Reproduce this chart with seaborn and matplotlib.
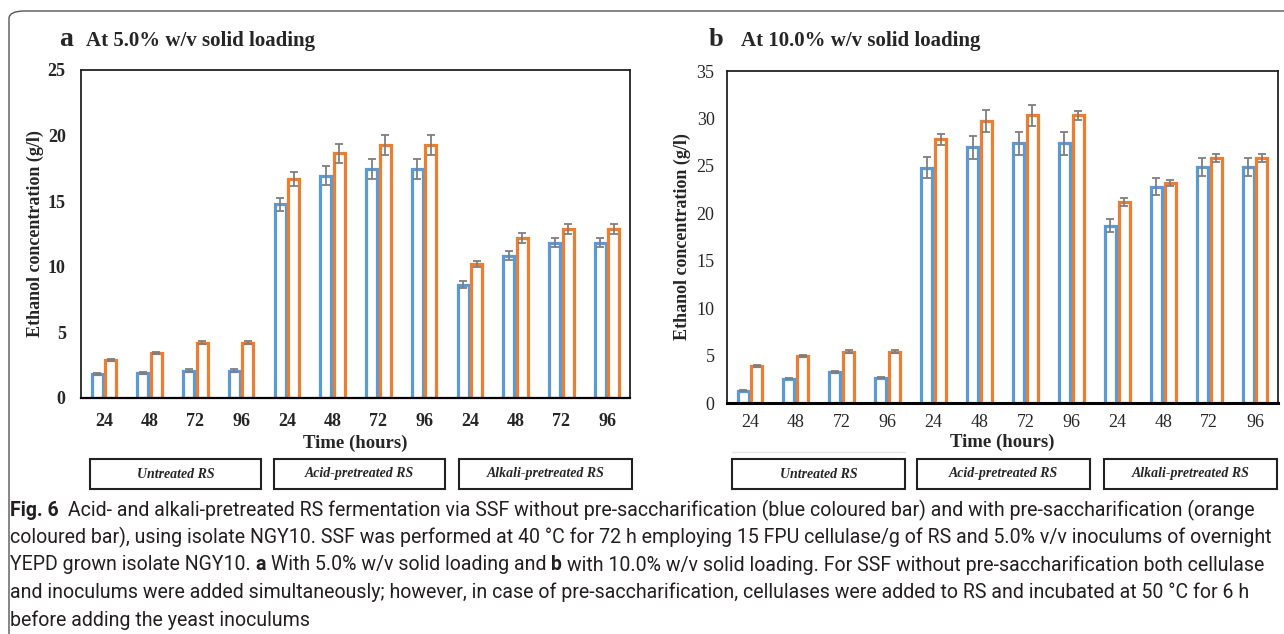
import pandas as pd
import matplotlib
matplotlib.use("Agg")
import matplotlib.pyplot as plt
import seaborn as sns
from matplotlib.patches import Rectangle, FancyBboxPatch

# ---- data ----
groups = ["Untreated RS", "Acid-pretreated RS", "Alkali-pretreated RS"]
hours = ["24", "48", "72", "96"]
methods = ["without pre-saccharification", "with pre-saccharification"]

# panel a, 5.0% w/v solid loading
a_blue = [1.82, 1.90, 2.08, 2.08, 14.75, 16.95, 17.45, 17.45, 8.65, 10.85, 11.85, 11.85]
a_blue_err = [0.08, 0.08, 0.10, 0.10, 0.53, 0.70, 0.76, 0.76, 0.27, 0.32, 0.37, 0.37]
a_orange = [2.92, 3.42, 4.22, 4.22, 16.70, 18.65, 19.25, 19.25, 10.20, 12.20, 12.85, 12.85]
a_orange_err = [0.08, 0.10, 0.10, 0.10, 0.52, 0.73, 0.76, 0.76, 0.23, 0.39, 0.38, 0.38]

# panel b, 10.0% w/v solid loading
b_blue = [1.27, 2.57, 3.28, 2.67, 24.80, 26.98, 27.40, 27.40, 18.68, 22.80, 24.87, 24.87]
b_blue_err = [0.05, 0.05, 0.12, 0.08, 1.13, 1.21, 1.21, 1.21, 0.67, 0.90, 0.98, 0.98]
b_orange = [3.87, 4.96, 5.42, 5.42, 27.80, 29.72, 30.32, 30.32, 21.20, 23.18, 25.85, 25.85]
b_orange_err = [0.12, 0.15, 0.15, 0.12, 0.58, 1.13, 1.10, 0.50, 0.39, 0.35, 0.42, 0.42]

caption_lines = [
    [("Fig. 6", True), ("  Acid- and alkali-pretreated RS fermentation via SSF without pre-saccharification (blue coloured bar) and with pre-saccharification (orange", False)],
    [("coloured bar), using isolate NGY10. SSF was performed at 40 °C for 72 h employing 15 FPU cellulase/g of RS and 5.0% v/v inoculums of overnight", False)],
    [("YEPD grown isolate NGY10. ", False), ("a", True), (" With 5.0% w/v solid loading and ", False), ("b", True),
     (" with 10.0% w/v solid loading. For SSF without pre-saccharification both cellulase", False)],
    [("and inoculums were added simultaneously; however, in case of pre-saccharification, cellulases were added to RS and incubated at 50 °C for 6 h", False)],
    [("before adding the yeast inoculums", False)],
]

BLUE = "#5b9bd5"
ORANGE = "#ed7d31"

positions = [g + " " + h for g in groups for h in hours]


def make_df(blue, orange):
    return pd.DataFrame({
        "pos": positions * 2,
        "method": [methods[0]] * 12 + [methods[1]] * 12,
        "value": blue + orange,
    })


sns.set_style("white")
plt.rcParams["font.family"] = ["Liberation Serif", "DejaVu Serif"]

W, H = 1284, 634
fig = plt.figure(figsize=(W / 100, H / 100), dpi=100)


def fx(x):
    return x / W


def fy(y):
    return 1 - y / H


def axes_px(x0, y0, x1, y1):
    return fig.add_axes([fx(x0), fy(y1), fx(x1) - fx(x0), fy(y0) - fy(y1)])


# outer rounded frame
fig.patches.append(FancyBboxPatch((fx(9), fy(660)), fx(1320) - fx(9), fy(11) - fy(660),
                                  boxstyle="round,pad=0,rounding_size=0.012",
                                  transform=fig.transFigure, fill=False,
                                  edgecolor="#555555", linewidth=1.0))


def panel(box, blue, blue_err, orange, orange_err, ymax, bold_ticks, bottom_lw,
          xpad, ypad, ylpad, xlpad):
    ax = axes_px(*box)
    df = make_df(blue, orange)
    sns.barplot(data=df, x="pos", y="value", hue="method", order=positions,
                hue_order=methods, palette=[BLUE, ORANGE], fill=False,
                linewidth=2.3, width=0.6, gap=0.2, errorbar=None,
                legend=False, ax=ax)
    for cont, errs in zip(ax.containers, [blue_err, orange_err]):
        for p, e in zip(cont.patches, errs):
            ax.errorbar(p.get_x() + p.get_width() / 2, p.get_height(), yerr=e,
                        fmt="none", ecolor="#7f7f7f", elinewidth=1.3,
                        capsize=2.8, capthick=1.3, zorder=5)
    ax.set_xlim(-0.5, 11.5)
    ax.set_ylim(0, ymax)
    ax.set_yticks(range(0, ymax + 1, 5))
    ax.set_xticks(range(12))
    weight = "bold" if bold_ticks else "normal"
    ax.set_xticklabels(hours * 3, fontsize=13, fontweight=weight)
    ax.set_yticklabels([str(v) for v in range(0, ymax + 1, 5)], fontsize=13, fontweight=weight)
    ax.tick_params(axis="both", length=0)
    ax.tick_params(axis="x", pad=xpad)
    ax.tick_params(axis="y", pad=ypad)
    ax.set_xlabel("Time (hours)", fontsize=13.5, fontweight="bold", labelpad=xlpad)
    ax.set_ylabel("Ethanol concentration (g/l)", fontsize=13, fontweight="bold", labelpad=ylpad)
    for s in ["top", "right", "left"]:
        ax.spines[s].set_color("#222222")
        ax.spines[s].set_linewidth(1.3)
    ax.spines["bottom"].set_color("black")
    ax.spines["bottom"].set_linewidth(bottom_lw)
    return ax


ax_a = panel((81, 70, 630, 398), a_blue, a_blue_err, a_orange, a_orange_err, 25, True, 1.6,
             11, 11, 3, 3)
ax_b = panel((727, 71, 1278, 403), b_blue, b_blue_err, b_orange, b_orange_err, 35, False, 2.2,
             8, 9, 4, 2)

# panel titles
fig.text(fx(59), fy(40), "a", fontsize=20, fontweight="bold", va="center", ha="left")
fig.text(fx(86), fy(41), "At 5.0% w/v solid loading", fontsize=15, fontweight="bold", va="center", ha="left")
fig.text(fx(709), fy(39), "b", fontsize=19, fontweight="bold", va="center", ha="left")
fig.text(fx(741), fy(41), "At 10.0% w/v solid loading", fontsize=15, fontweight="bold", va="center", ha="left")

# group boxes under the x axis
group_boxes = [
    [(90, 261), (274, 445), (459, 632)],
    [(732, 905), (917, 1090), (1104, 1277)],
]
for boxes in group_boxes:
    for (x0, x1), name in zip(boxes, groups):
        fig.patches.append(Rectangle((fx(x0), fy(489)), fx(x1) - fx(x0), fy(459) - fy(489),
                                     transform=fig.transFigure, fill=False,
                                     edgecolor="#222222", linewidth=1.5))
        fig.text(fx((x0 + x1) / 2), fy(474), name, fontsize=10, fontweight="bold",
                 fontstyle="italic", ha="center", va="center")
fig.lines.append(plt.Line2D([fx(732), fx(905)], [fy(452), fy(452)], transform=fig.transFigure,
                            color="#e6e6e6", linewidth=1))

# caption, drawn piece by piece so bold words sit inline
renderer = fig.canvas.get_renderer()
cap_font = ["Roboto", "DejaVu Sans"]


def draw_line(pieces, x, y, size):
    drawn = []
    sp = fig.text(0, 0, "a a", fontsize=size, family=cap_font)
    sp2 = fig.text(0, 0, "aa", fontsize=size, family=cap_font)
    space_w = sp.get_window_extent(renderer).width - sp2.get_window_extent(renderer).width
    sp.remove()
    sp2.remove()
    for txt, bold in pieces:
        lead = len(txt) - len(txt.lstrip(" "))
        core = txt.strip(" ")
        trail = len(txt) - len(txt.rstrip(" "))
        x += lead * space_w
        t = fig.text(fx(x), fy(y), core, fontsize=size, family=cap_font,
                     fontweight="bold" if bold else "normal", color="#231f20",
                     ha="left", va="center")
        drawn.append(t)
        x += t.get_window_extent(renderer).width + trail * space_w
    return x, drawn


# fit the font size so the longest lines span the caption width
cap_size = 12.0
for _ in range(4):
    widest = 0
    for line in caption_lines[:4]:
        end, tmp = draw_line(line, 10, 510, cap_size)
        for t in tmp:
            t.remove()
        widest = max(widest, end - 10)
    cap_size = cap_size * (1272 - 10) / widest

for i, line in enumerate(caption_lines):
    draw_line(line, 10, 510 + 27.5 * i, cap_size)

fig.savefig("out.png", dpi=100)
